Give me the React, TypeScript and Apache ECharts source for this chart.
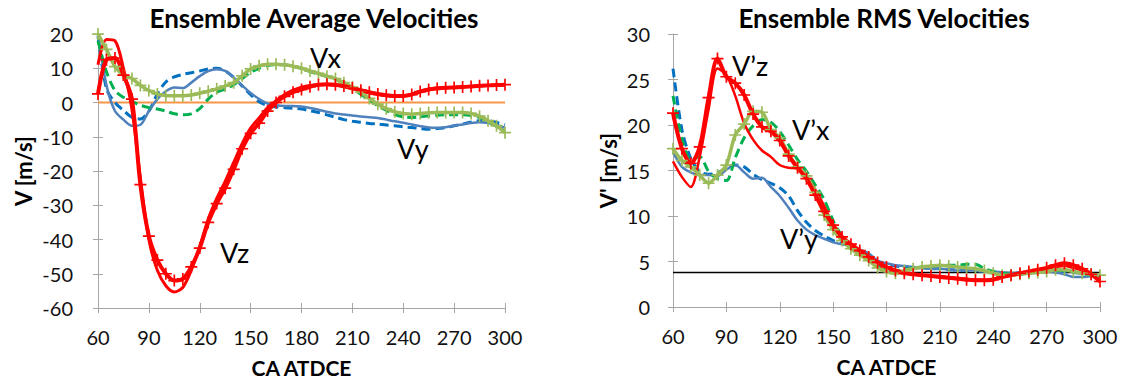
import React, { useEffect, useRef } from "react";
import * as echarts from "echarts";

// Crank angle (CA ATDCE) sample positions
const ca = [60, 65, 70, 75, 80, 85, 90, 95, 100, 105, 110, 115, 120, 125, 130, 135, 140, 145, 150, 155, 160, 165, 170, 175, 180, 185, 190, 195, 200, 205, 210, 215, 220, 225, 230, 235, 240, 245, 250, 255, 260, 265, 270, 275, 280, 285, 290, 295, 300];

// Left chart: ensemble average velocities [m/s]
const vzMarked = [2.5, 12.5, 13, 8, 1, -24, -39, -46, -50, -52, -51.5, -48, -42.5, -35, -29.5, -25, -19.5, -13.5, -9, -6, -2.5, 0, 1.8, 3, 3.8, 4.6, 5.2, 5.3, 5.2, 4.8, 4.2, 3.6, 3, 2.5, 2.1, 1.9, 1.9, 2.3, 3.2, 3.8, 4.1, 4.3, 4.4, 4.5, 4.7, 4.9, 5, 5.1, 5.2];
const vzLine = [11, 18.4, 18, 10, -2, -22, -40, -49, -53.5, -55.3, -54, -49, -42, -34, -28, -23, -17.5, -12, -7.5, -4.5, -1.5, 0.5, 2.3, 3.6, 4.5, 5, 5.2, 5.2, 5, 4.6, 4, 3.4, 2.8, 2.4, 2, 1.8, 1.9, 2.4, 3.3, 3.9, 4.2, 4.3, 4.4, 4.5, 4.7, 4.9, 5, 5.1, 5.2];
const vxMarked = [20, 15.5, 10.5, 8, 7, 5, 3.5, 2.5, 2, 2, 2, 2.2, 2.7, 3.3, 4, 4.8, 5.8, 7.8, 9.8, 10.7, 11.2, 11.2, 11, 10.6, 10, 9.2, 8.5, 7.7, 7, 5.8, 4.5, 3, 1.2, -0.5, -1.8, -2.7, -3.2, -3.4, -3.2, -3, -2.9, -2.9, -2.9, -2.9, -3.2, -4, -5.3, -6.8, -8.8];
const vxDashed = [18, 9, 3.5, 1.5, 0.3, -0.8, -1.5, -1.9, -2.5, -3.3, -3.6, -3.3, -1.8, 1, 3, 3.9, 5.2, 7, 8.8, 10, 10.8, 11, 11, 10.5, 10, 9, 8.3, 7.5, 6.8, 5.5, 4, 2.4, 0.8, -1, -2.3, -3.5, -4.2, -4.4, -4.2, -3.9, -3.7, -3.6, -3.6, -3.6, -3.8, -4.4, -5.5, -7, -8.5];
const vyLine = [20, 5, -2.5, -5, -6.8, -6.5, -2.5, 1, 3.3, 4.4, 4.2, 5.8, 7.7, 9.2, 9.7, 9.2, 7.3, 5, 2.8, 1, -0.3, -0.8, -1, -1, -1.2, -1.6, -2.1, -2.7, -3.2, -3.5, -3.8, -4.1, -4.3, -4.5, -5, -5.5, -5.9, -6.4, -6.9, -7.3, -7.4, -7.2, -6.8, -6.4, -6, -5.8, -6, -6.5, -7.4];
const vyDashed = [19.4, 4, 0, -2.3, -4.3, -4.8, -2.5, 2.5, 6, 7.5, 8.2, 8.7, 9.2, 9.8, 10, 9.2, 7.3, 4.8, 2.3, 0.2, -0.9, -1.3, -1.5, -1.7, -1.9, -2.4, -2.9, -3.6, -4.3, -5, -5.5, -5.8, -6.1, -6.3, -6.6, -6.8, -7.1, -7.3, -7.6, -7.8, -7.6, -7.3, -6.8, -6.3, -5.7, -5.3, -5.3, -5.8, -6.5];
const avgRefLevel = 0;

// Right chart: ensemble RMS velocities [m/s]
const rzMarked = [21.3, 17.4, 15.8, 17.6, 23, 27.3, 25.3, 24.6, 23.3, 21.2, 19.8, 19.3, 18.3, 16.6, 15.3, 14.1, 12.3, 10.5, 9, 7.7, 6.9, 6.2, 5.5, 4.9, 4.4, 4, 3.7, 3.6, 3.5, 3.4, 3.3, 3.2, 3.1, 3, 2.95, 2.95, 3, 3.3, 3.5, 3.7, 3.9, 4.1, 4.3, 4.6, 4.8, 4.6, 4.2, 3.6, 2.8];
const rzLine = [16, 14.3, 13.2, 16.5, 21.7, 26.2, 25.5, 23.2, 20.2, 18.4, 17.2, 16.5, 15.6, 15.3, 15.2, 14.3, 12.9, 11.1, 9, 7.6, 6.8, 6.1, 5.5, 4.9, 4.4, 4.1, 3.8, 3.6, 3.5, 3.4, 3.4, 3.3, 3.2, 3.1, 3, 3, 3.1, 3.3, 3.5, 3.7, 3.9, 4, 4.2, 4.4, 4.5, 4.3, 4, 3.5, 3];
const rxMarked = [17.4, 16.1, 15.4, 14.5, 13.6, 14.5, 15.6, 18.9, 20.1, 21.5, 21.4, 19.5, 18.6, 16.8, 15.4, 14.4, 12.6, 10.1, 8.5, 7.3, 6.4, 5.7, 5.1, 4.3, 3.9, 3.7, 4, 4.2, 4.4, 4.5, 4.6, 4.5, 4.4, 4.3, 4.2, 4, 3.7, 3.5, 3.5, 3.6, 3.7, 3.8, 3.9, 4.1, 4.1, 3.9, 3.7, 3.6, 3.5];
const rxDashed = [23.2, 18.5, 16.2, 16.5, 14.9, 14.1, 13.9, 16.4, 18.6, 19.9, 20.6, 20.3, 19.3, 17.8, 16.2, 14.9, 13.4, 11.8, 9.5, 7.8, 6.7, 5.9, 5.3, 4.6, 4.2, 4, 4.1, 4.3, 4.4, 4.5, 4.6, 4.6, 4.6, 4.7, 4.7, 4.2, 3.9, 3.7, 3.6, 3.6, 3.7, 3.8, 3.9, 4, 4, 3.9, 3.7, 3.5, 3.4];
const ryLine = [17, 15.4, 14.8, 14.5, 14.5, 14.4, 15.1, 15.6, 14.8, 14.1, 14.2, 13.2, 12.2, 10.9, 9.5, 8.5, 7.9, 7.5, 7.1, 6.9, 6.7, 6.3, 5.9, 5.1, 4.8, 4.6, 4.5, 4.4, 4.3, 4.2, 4.2, 4.1, 4, 4, 4, 3.9, 3.9, 3.8, 3.7, 3.8, 3.8, 3.9, 3.9, 3.8, 3.6, 3.3, 3.3, 3.4, 3.5];
const ryDashed = [26.2, 19.5, 16.3, 14.9, 14.6, 14.7, 15.3, 15.6, 15.4, 14.6, 14, 13.6, 13.1, 12.2, 10.6, 9.3, 8.4, 7.8, 7.3, 7, 6.7, 6.2, 5.6, 5, 4.7, 4.5, 4.4, 4.3, 4.3, 4.2, 4.2, 4.1, 4.1, 4, 4, 3.9, 3.8, 3.7, 3.7, 3.7, 3.8, 3.8, 3.9, 3.9, 3.9, 3.8, 3.7, 3.5, 3.5];
const rmsRefLevel = 3.8;

const FONT = 'Lato, "Open Sans", "DejaVu Sans", sans-serif';
const AXIS = "#A6A6A6";
const RED = "#FF0000";
const OLIVE = "#9BBB59";
const GREEN = "#00B050";
const BLUE = "#4F81BD";
const BLUE2 = "#0070C0";
const PLUS =
  "path://M-0.14,-1L0.14,-1L0.14,-0.14L1,-0.14L1,0.14L0.14,0.14L0.14,1L-0.14,1L-0.14,0.14L-1,0.14L-1,-0.14L-0.14,-0.14Z";

const pairs = (ys: number[]) => ca.map((x, i) => [x, ys[i]]);

function xMain(gridIndex: number) {
  return {
    type: "value",
    gridIndex,
    min: 60,
    max: 300,
    interval: 30,
    position: "bottom",
    axisLine: { show: true, onZero: false, lineStyle: { color: AXIS, width: 1 } },
    axisTick: { show: true, length: 5, lineStyle: { color: AXIS } },
    axisLabel: { color: "#111", fontSize: 20, fontFamily: FONT, margin: 19 },
    splitLine: { show: false },
    name: "CA ATDCE",
    nameLocation: "middle",
    nameGap: 49,
    nameTextStyle: { fontWeight: "bold", fontSize: 21, color: "#000", fontFamily: FONT },
  };
}
function xDup(gridIndex: number) {
  return {
    type: "value",
    gridIndex,
    min: 60,
    max: 300,
    interval: 30,
    position: "bottom",
    axisLine: { show: false, onZero: false },
    axisTick: { show: true, inside: true, length: 5, lineStyle: { color: AXIS } },
    axisLabel: { show: false },
    splitLine: { show: false },
  };
}
function yMain(gridIndex: number, min: number, max: number, interval: number, name: string, margin: number, gap: number) {
  return {
    type: "value",
    gridIndex,
    min,
    max,
    interval,
    position: "left",
    axisLine: { show: true, onZero: false, lineStyle: { color: AXIS, width: 1 } },
    axisTick: { show: true, length: 5, lineStyle: { color: AXIS } },
    axisLabel: { color: "#111", fontSize: 20, fontFamily: FONT, margin },
    splitLine: { show: false },
    name,
    nameLocation: "middle",
    nameGap: gap,
    nameTextStyle: { fontWeight: "bold", fontSize: 22, color: "#000", fontFamily: FONT },
  };
}
function yDup(gridIndex: number, min: number, max: number, interval: number) {
  return {
    type: "value",
    gridIndex,
    min,
    max,
    interval,
    position: "left",
    axisLine: { show: false, onZero: false },
    axisTick: { show: true, inside: true, length: 5, lineStyle: { color: AXIS } },
    axisLabel: { show: false },
    splitLine: { show: false },
  };
}

function line(idx: number, data: number[], color: string, width: number, dashed: boolean, marked: boolean) {
  return {
    type: "line",
    xAxisIndex: idx,
    yAxisIndex: idx,
    data: pairs(data),
    smooth: 0.3,
    symbol: marked ? PLUS : "none",
    showSymbol: marked,
    symbolSize: 12,
    itemStyle: { color, borderWidth: 0 },
    lineStyle: { color, width, type: dashed ? [9, 5] : "solid" },
    z: marked ? 4 : 3,
  };
}
function refLine(idx: number, level: number, color: string, width: number) {
  return {
    type: "line",
    xAxisIndex: idx,
    yAxisIndex: idx,
    data: [
      [60, level],
      [300, level],
    ],
    symbol: "none",
    lineStyle: { color, width },
    z: 2,
  };
}

function label(text: string, x: number, y: number) {
  return {
    type: "text",
    x,
    y,
    style: { text, font: `27px ${FONT}`, fill: "#000", align: "left", verticalAlign: "middle" },
    z: 10,
  };
}
function title(text: string, x: number) {
  return {
    type: "text",
    x,
    y: 18,
    style: { text, font: `bold 26px ${FONT}`, fill: "#000", align: "center", verticalAlign: "middle" },
  };
}

const option = {
  animation: false,
  backgroundColor: "#fff",
  grid: [
    { left: 98, top: 34, width: 407, height: 274 },
    { left: 673, top: 34, width: 427, height: 273 },
  ],
  xAxis: [xMain(0), xMain(1), xDup(0), xDup(1)],
  yAxis: [
    yMain(0, -60, 20, 10, "V [m/s]", 25, 64),
    yMain(1, 0, 30, 5, "V' [m/s]", 23, 54),
    yDup(0, -60, 20, 10),
    yDup(1, 0, 30, 5),
  ],
  series: [
    refLine(0, avgRefLevel, "#F79646", 2),
    line(0, vyDashed, BLUE2, 3, true, false),
    line(0, vyLine, BLUE, 2.5, false, false),
    line(0, vxDashed, GREEN, 3, true, false),
    line(0, vxMarked, OLIVE, 3.5, false, true),
    line(0, vzLine, RED, 3, false, false),
    line(0, vzMarked, RED, 4, false, true),
    refLine(1, rmsRefLevel, "#000", 1.5),
    line(1, ryDashed, BLUE2, 3, true, false),
    line(1, ryLine, BLUE, 2.5, false, false),
    line(1, rxDashed, GREEN, 3, true, false),
    line(1, rxMarked, OLIVE, 3.5, false, true),
    line(1, rzLine, RED, 2.5, false, false),
    line(1, rzMarked, RED, 4, false, true),
  ],
  graphic: [
    title("Ensemble Average Velocities", 314),
    title("Ensemble RMS Velocities", 884),
    label("Vx", 310, 57),
    label("Vy", 397, 148),
    label("Vz", 220, 252),
    label("V\u2019z", 732, 65),
    label("V\u2019x", 792, 129),
    label("V\u2019y", 780, 238),
  ],
};

export default function App() {
  const ref = useRef<HTMLDivElement>(null);
  useEffect(() => {
    const chart = echarts.init(ref.current!, null, { renderer: "svg" });
    chart.setOption(option as any);
    return () => chart.dispose();
  }, []);
  return (
    <div
      ref={ref}
      style={{ position: "fixed", left: 0, top: 0, width: 1124, height: 383, background: "#fff" }}
    />
  );
}
